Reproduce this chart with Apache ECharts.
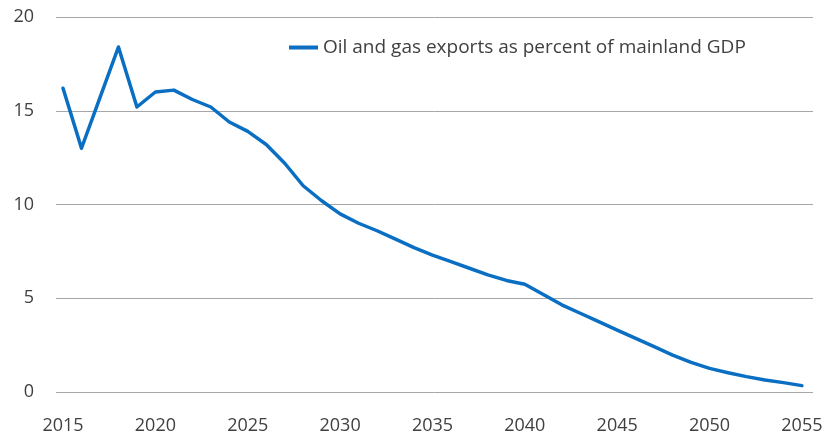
<!DOCTYPE html>
<html>
<head>
<meta charset="utf-8">
<script src="https://cdn.jsdelivr.net/npm/echarts@6/dist/echarts.min.js"></script>
<style>
  html, body { margin: 0; padding: 0; background: #fff; }
  #chart { width: 827px; height: 440px; }
</style>
</head>
<body>
<div id="chart"></div>
<script>
// Years and oil & gas exports as percent of mainland GDP
const years = [2015, 2016, 2017, 2018, 2019, 2020, 2021, 2022, 2023, 2024,
  2025, 2026, 2027, 2028, 2029, 2030, 2031, 2032, 2033, 2034,
  2035, 2036, 2037, 2038, 2039, 2040, 2041, 2042, 2043, 2044,
  2045, 2046, 2047, 2048, 2049, 2050, 2051, 2052, 2053, 2054, 2055];
const exportsShare = [16.2, 13.0, 15.7, 18.4, 15.2, 16.0, 16.1, 15.6, 15.2, 14.4,
  13.9, 13.2, 12.2, 11.0, 10.2, 9.5, 9.0, 8.6, 8.15, 7.7,
  7.3, 6.95, 6.6, 6.25, 5.95, 5.75, 5.2, 4.65, 4.2, 3.75,
  3.3, 2.86, 2.42, 1.97, 1.58, 1.26, 1.03, 0.82, 0.64, 0.5, 0.34];
const yearTicks = [2015, 2020, 2025, 2030, 2035, 2040, 2045, 2050, 2055];
const seriesName = 'Oil and gas exports as percent of mainland GDP';

const chart = echarts.init(document.getElementById('chart'));
const textColor = '#404040';
const font = '"Open Sans", "Noto Sans", sans-serif';

chart.setOption({
  animation: false,
  grid: { left: 56, right: 14, top: 17, bottom: 48 },
  legend: {
    data: [seriesName],
    left: 284,
    top: 33,
    itemWidth: 29,
    itemHeight: 4,
    itemGap: 6,
    icon: 'rect',
    textStyle: { color: textColor, fontSize: 19, fontFamily: font }
  },
  xAxis: {
    type: 'value',
    min: 2014.62,
    max: 2055.6,
    splitLine: { show: false },
    axisLine: { show: false },
    axisTick: { show: false },
    axisLabel: {
      customValues: yearTicks,
      color: textColor,
      fontSize: 18,
      fontFamily: font,
      margin: 25,
      formatter: v => String(v)
    }
  },
  yAxis: {
    type: 'value',
    min: 0,
    max: 20,
    interval: 5,
    axisLine: { show: false },
    axisTick: { show: false },
    splitLine: { lineStyle: { color: '#a6a6a6', width: 1 } },
    axisLabel: {
      color: textColor,
      fontSize: 18,
      fontFamily: font,
      margin: 22
    }
  },
  series: [{
    name: seriesName,
    type: 'line',
    data: years.map((y, i) => [y, exportsShare[i]]),
    showSymbol: false,
    smooth: false,
    itemStyle: { color: '#0a6fc2' },
    lineStyle: { color: '#0a6fc2', width: 3.5, join: 'round', cap: 'round' }
  }]
});
</script>
</body>
</html>
